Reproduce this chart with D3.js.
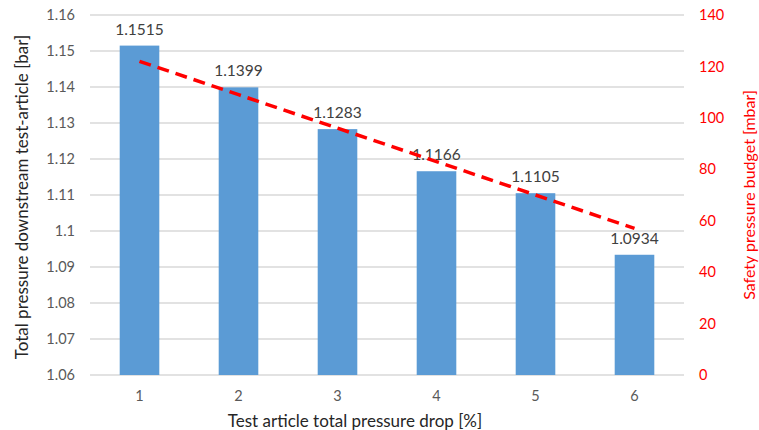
<!DOCTYPE html>
<html>
<head>
<meta charset="utf-8">
<script src="https://cdn.jsdelivr.net/npm/d3@7"></script>
<style>
  body { margin: 0; background: #fff; }
  text { font-family: Lato, "Open Sans", sans-serif; }
</style>
</head>
<body>
<div id="chart"></div>
<script>
// data
const categories = ["1", "2", "3", "4", "5", "6"];
const pressureValues = [1.1515, 1.1399, 1.1283, 1.1166, 1.1105, 1.0934];
const budgetValues = [122, 109, 96, 83, 70, 57];
const leftTicks = [1.06, 1.07, 1.08, 1.09, 1.1, 1.11, 1.12, 1.13, 1.14, 1.15, 1.16];
const rightTicks = [0, 20, 40, 60, 80, 100, 120, 140];

const W = 759, H = 430;
const margin = {top: 15, right: 75, bottom: 55, left: 90},
  width = W - margin.left - margin.right,
  height = H - margin.top - margin.bottom;

const svg = d3.select("#chart").append("svg")
  .attr("width", W)
  .attr("height", H);

const g = svg.append("g")
  .attr("transform", "translate(" + margin.left + "," + margin.top + ")");

const x = d3.scaleBand().domain(categories).range([0, width]).paddingInner(0.6).paddingOuter(0.3);
const yLeft = d3.scaleLinear().domain([1.06, 1.16]).range([height, 0]);
const yRight = d3.scaleLinear().domain([0, 140]).range([height, 0]);

// gridlines
g.append("g")
  .selectAll("line")
  .data(leftTicks)
  .enter().append("line")
  .attr("x1", 0).attr("x2", width)
  .attr("y1", d => yLeft(d)).attr("y2", d => yLeft(d))
  .attr("stroke", "#d9d9d9")
  .attr("stroke-width", 1.3);

// left axis
const leftAxis = g.append("g")
  .call(d3.axisLeft(yLeft).tickValues(leftTicks).tickSize(0).tickPadding(15).tickFormat(d => +d.toFixed(2)));
leftAxis.select(".domain").remove();
leftAxis.selectAll("text").attr("fill", "#595959").style("font-size", "14.5px");

// right axis
const rightAxis = g.append("g")
  .attr("transform", "translate(" + width + ",0)")
  .call(d3.axisRight(yRight).tickValues(rightTicks).tickSize(0).tickPadding(15));
rightAxis.select(".domain").remove();
rightAxis.selectAll("text").attr("fill", "#ff0000").style("font-size", "14.5px");

// bottom axis
const bottomAxis = g.append("g")
  .attr("transform", "translate(0," + height + ")")
  .call(d3.axisBottom(x).tickSize(0).tickPadding(16));
bottomAxis.select(".domain").remove();
bottomAxis.selectAll("text").attr("fill", "#595959").style("font-size", "14.5px");

// bars
g.selectAll("rect.bar")
  .data(pressureValues)
  .enter().append("rect")
  .attr("class", "bar")
  .attr("x", (d, i) => x(categories[i]))
  .attr("y", d => yLeft(d))
  .attr("width", x.bandwidth())
  .attr("height", d => height - yLeft(d))
  .attr("fill", "#5b9bd5");

// data labels
g.selectAll("text.label")
  .data(pressureValues)
  .enter().append("text")
  .attr("class", "label")
  .attr("x", (d, i) => x(categories[i]) + x.bandwidth() / 2)
  .attr("y", d => yLeft(d) - 11)
  .attr("text-anchor", "middle")
  .attr("fill", "#404040")
  .style("font-size", "15.5px")
  .text(d => d.toFixed(4));

// dashed budget line
const line = d3.line()
  .x((d, i) => x(categories[i]) + x.bandwidth() / 2)
  .y(d => yRight(d));

g.append("path")
  .datum(budgetValues)
  .attr("d", line)
  .attr("fill", "none")
  .attr("stroke", "#ff0000")
  .attr("stroke-width", 3.5)
  .attr("stroke-dasharray", "12,7");

// axis titles
svg.append("text")
  .attr("transform", "translate(22," + (margin.top + height / 2 + 2) + ") rotate(-90)")
  .attr("text-anchor", "middle")
  .attr("dy", "0.35em")
  .attr("fill", "#262626")
  .style("font-size", "17px")
  .text("Total pressure downstream test-article [bar]");

svg.append("text")
  .attr("transform", "translate(749," + (margin.top + height / 2) + ") rotate(-90)")
  .attr("text-anchor", "middle")
  .attr("dy", "0.35em")
  .attr("fill", "#ff0000")
  .style("font-size", "16px")
  .text("Safety pressure budget [mbar]");

svg.append("text")
  .attr("x", 355)
  .attr("y", 421)
  .attr("text-anchor", "middle")
  .attr("dy", "0.35em")
  .attr("fill", "#262626")
  .style("font-size", "17px")
  .text("Test article total pressure drop [%]");
</script>
</body>
</html>
